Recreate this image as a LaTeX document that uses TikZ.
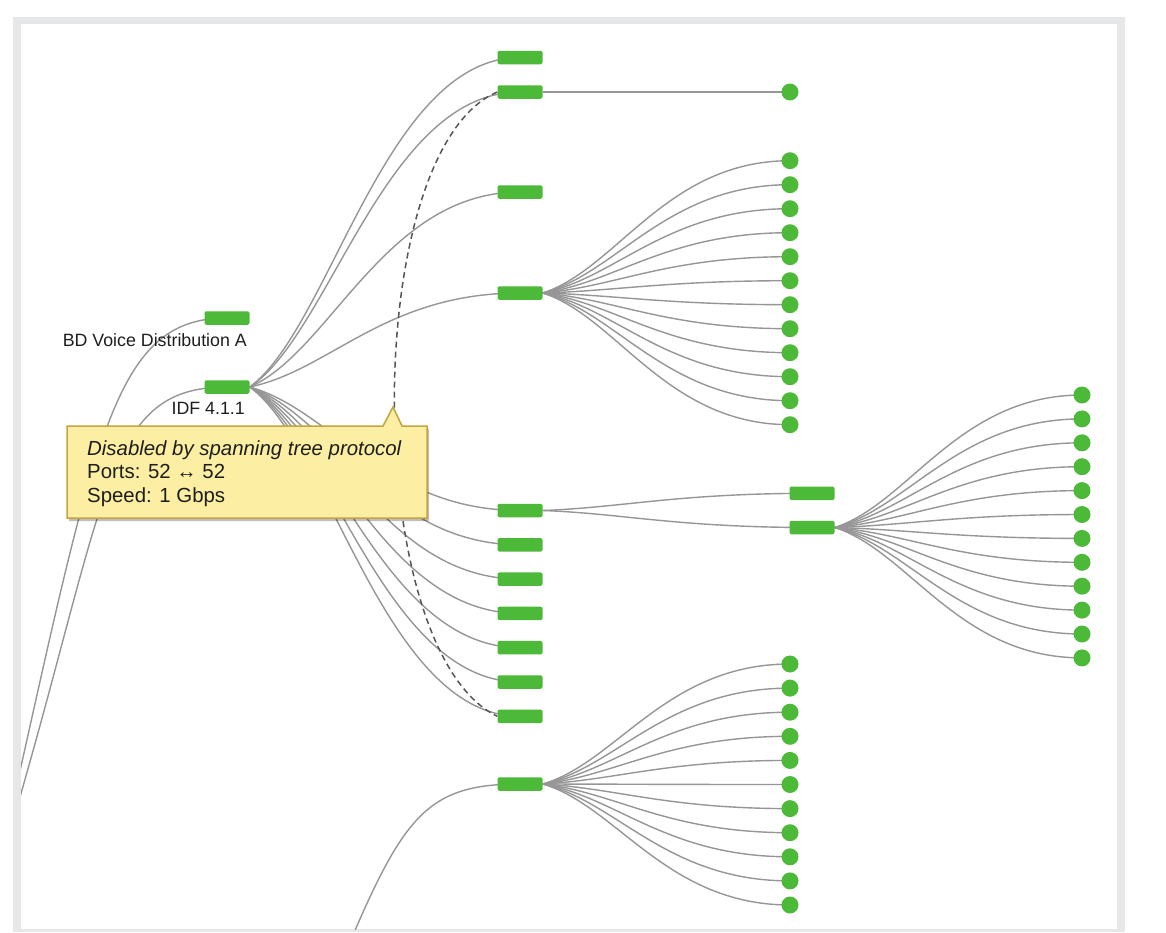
\documentclass[tikz,border=0pt]{standalone}
\usepackage{fontspec}
\setmainfont{Liberation Sans}
\usetikzlibrary{calc,shadows}
\definecolor{nodegreen}{RGB}{77,185,56}
\definecolor{edgegray}{RGB}{150,150,150}
\definecolor{framegray}{RGB}{230,231,232}
\definecolor{tipfill}{RGB}{252,238,162}
\definecolor{tipborder}{RGB}{196,164,62}
\definecolor{dashgray}{RGB}{85,85,85}
\definecolor{labelc}{RGB}{30,30,30}
\pgfdeclarelayer{bg}\pgfdeclarelayer{edges}\pgfsetlayers{bg,edges,main}
\newcommand{\lnk}[2]{\draw[lnkline] let \p1=(#1.east), \p2=(#2.center), \n1={\x2-\x1}, \n2={\y2-\y1} in (#1.east) .. controls ({\x1+0.3*\n1},{\y1+0.18*\n2}) and ({\x1+0.5*\n1},\y2) .. (#2.center);}
\tikzset{
 sw/.style={fill=nodegreen, rounded corners=2pt, minimum width=45pt, minimum height=13.5pt, inner sep=0pt, draw=none},
 leaf/.style={fill=nodegreen, circle, minimum size=17pt, inner sep=0pt},
 lnkline/.style={draw=edgegray, line width=1.4pt},
 stp/.style={draw=dashgray, line width=1.5pt, dash pattern=on 6pt off 4pt},
 lbl/.style={font=\fontsize{17.8}{20}\selectfont, text=labelc, inner sep=0pt, anchor=base east},
 tiptext/.style={font=\fontsize{20.4}{23}\selectfont, text=labelc, inner sep=0pt, anchor=base west},
}
\begin{document}
\begin{tikzpicture}[x=1pt,y=-1pt]
\useasboundingbox (0,0) rectangle (1166,932);
\begin{pgfonlayer}{bg}
\fill[white] (0,0) rectangle (1166,932);
\fill[framegray] (13,17) rectangle (1125,932);
\fill[white] (21,24) rectangle (1117,929);
\end{pgfonlayer}
% column 1
\node[sw] (bd) at (227,318) {};
\node[sw] (idf) at (227,387) {};
\node[lbl] (bdl) at (247,346) {BD Voice Distribution A};
\node[lbl] (idfl) at (245,414) {IDF 4.1.1};
% column 2
\node[sw] (a1) at (520,57.5) {};
\node[sw] (a2) at (520,92) {};
\node[sw] (a3) at (520,192) {};
\node[sw] (a4) at (520,293) {};
\foreach \k in {1,...,7} \node[sw] (b\k) at (520,{510.5+34.3*(\k-1)}) {};
\node[sw] (c1) at (520,784) {};
% column 3
\node[leaf] (a2c) at (790,92) {};
\foreach \k in {0,...,11} \node[leaf] (t\k) at (790,{160.7+24*\k}) {};
\foreach \k in {0,...,10} \node[leaf] (u\k) at (790,{664+24.1*\k}) {};
\node[sw] (d1) at (812,493.3) {};
\node[sw] (d2) at (812,527.5) {};
% column 4
\foreach \k in {0,...,11} \node[leaf] (r\k) at (1082,{395+23.9*\k}) {};
% off-screen sources
\coordinate (src1) at (0,860);
\coordinate (src2) at (0,865);
\coordinate (src3) at (330,990);
\begin{pgfonlayer}{edges}
\clip (21,24) rectangle (1117,929);
\draw[lnkline] (bd.center) .. controls (110,318) and (95,440) .. (src1);
\draw[lnkline] (idf.center) .. controls (100,387) and (110,500) .. (src2);
\draw[lnkline] (c1.center) .. controls (420,784) and (400,820) .. (src3);
\foreach \nm in {a1,a2,a3,a4,b1,b2,b3,b4,b5,b6,b7} {\lnk{idf}{\nm}}
\lnk{a2}{a2c}
\foreach \k in {0,...,11} {\lnk{a4}{t\k}}
\foreach \k in {0,...,10} {\lnk{c1}{u\k}}
\lnk{b1}{d1}
\lnk{b1}{d2}
\foreach \k in {0,...,11} {\lnk{d2}{r\k}}
\draw[stp] (a2.west) .. controls (360,150) and (360,650) .. (b7.west);
\end{pgfonlayer}
% tooltip
\draw[fill=tipfill, draw=tipborder, line width=1.5pt, drop shadow={opacity=0.25, shadow xshift=2pt, shadow yshift=-3pt, fill=black}]
 (67,426) -- (383,426) -- (393,407) -- (402,426) -- (427,426) -- (427,518) -- (67,518) -- cycle;
\node[tiptext] (tt1) at (87,455) {\itshape Disabled by spanning tree protocol};
\node[tiptext] (tt2) at (87,478) {Ports: 52 ↔ 52};
\node[tiptext] (tt3) at (87,502) {Speed: 1 Gbps};
\end{tikzpicture}
\end{document}
